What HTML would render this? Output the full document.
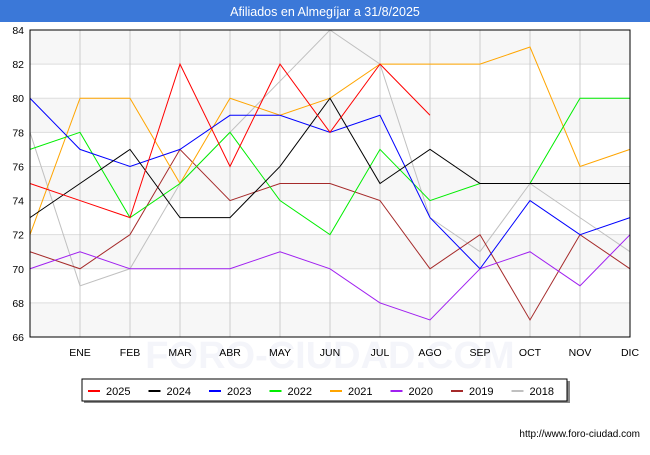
<!DOCTYPE html>
<html><head><meta charset="utf-8"><style>
body{margin:0;width:650px;height:450px;background:#fff;font-family:"Liberation Sans",sans-serif;overflow:hidden}
</style></head><body>
<svg width="650" height="450" id="svg" font-family="Liberation Sans, sans-serif">
<rect x="0" y="0" width="650" height="22" fill="#3b78d8"/>
<text x="325" y="16" text-anchor="middle" fill="#fff" font-size="12.5">Afiliados en Almegíjar a 31/8/2025</text>
<g id="plot"></g>
<text x="640" y="437" text-anchor="end" font-size="10" fill="#000">http://www.foro-ciudad.com</text>
</svg>
<script>
const months=["","ENE","FEB","MAR","ABR","MAY","JUN","JUL","AGO","SEP","OCT","NOV","DIC"];
const yTicks=[66,68,70,72,74,76,78,80,82,84];
const seriesNames=["2025","2024","2023","2022","2021","2020","2019","2018"];
const colors=["#ff0000","#000000","#0000ff","#00ee00","#ffa500","#a020f0","#a52a2a","#c0c0c0"];
const s2025=[75,74,73,82,76,82,78,82,79];
const s2024=[73,75,77,73,73,76,80,75,77,75,75,75,75];
const s2023=[80,77,76,77,79,79,78,79,73,70,74,72,73];
const s2022=[77,78,73,75,78,74,72,77,74,75,75,80,80];
const s2021=[72,80,80,75,80,79,80,82,82,82,83,76,77];
const s2020=[70,71,70,70,70,71,70,68,67,70,71,69,72];
const s2019=[71,70,72,77,74,75,75,74,70,72,67,72,70];
const s2018=[78,69,70,75,78,81,84,82,73,71,75,73,71];
const allSeries=[s2025,s2024,s2023,s2022,s2021,s2020,s2019,s2018];
const L=30,R=630,T=30,B=337,ymin=66,ymax=84;
const X=i=>L+i*(R-L)/12;
const Y=v=>B-(v-ymin)*(B-T)/(ymax-ymin);
const NS="http://www.w3.org/2000/svg";
const g=document.getElementById('plot');
function mk(t,a,p){const e=document.createElementNS(NS,t);for(const k in a)e.setAttribute(k,a[k]);(p||g).appendChild(e);return e;}
const wm=mk('text',{x:330,y:368,'text-anchor':'middle','font-size':38,fill:'#f4f5fa','font-weight':'bold'});wm.textContent='FORO-CIUDAD.COM';


for(let k=0;k<yTicks.length-1;k++){
 if((yTicks.length-2-k)%2===0){const r=mk('rect',{x:L,y:Y(yTicks[k+1]),width:R-L,height:Y(yTicks[k])-Y(yTicks[k+1]),fill:'#f7f7f7'});
 
 }
}
yTicks.forEach(v=>{
 const l=mk('line',{x1:L,x2:R,y1:Y(v),y2:Y(v),stroke:'#ddd'});
 
 
 const t=mk('text',{x:L-6,y:Y(v)+4,'text-anchor':'end','font-size':10.5});t.textContent=v;
 
 
});
months.forEach((m,i)=>{
 if(i>0){const l=mk('line',{x1:X(i),x2:X(i),y1:T,y2:B,stroke:'#ccc'});
 
 }
 const t=mk('text',{x:X(i),y:356,'text-anchor':'middle','font-size':10.5});t.textContent=m;
 
 
});
for(let s=allSeries.length-1;s>=0;s--){
 const pts=allSeries[s].map((v,i)=>X(i)+','+Y(v)).join(' ');
 const p=mk('polyline',{points:pts,fill:'none',stroke:colors[s],'stroke-width':1});
 
 
}
const fr=mk('rect',{x:L,y:T,width:R-L,height:B-T,fill:'none',stroke:'#000'});


const lg=mk('g',{});


mk('rect',{x:84,y:381,width:486,height:22,fill:'#888'},lg);
mk('rect',{x:82,y:379,width:485,height:22,fill:'#fff',stroke:'#000'},lg);
seriesNames.forEach((n,i)=>{
 const x=88+i*60.5;
 const e=mk('g',{},lg);
 
 
 mk('line',{x1:x,x2:x+12,y1:391,y2:391,stroke:colors[i],'stroke-width':2},e);
 const t=mk('text',{x:x+18,y:395,'font-size':11},e);t.textContent=n;
});
</script>
</body></html>
